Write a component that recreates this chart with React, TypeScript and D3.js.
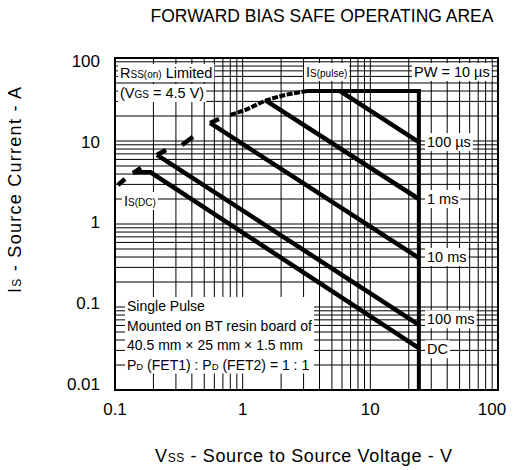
import React, { useEffect, useRef } from 'react';
import * as d3 from 'd3';

type Pt = [number, number];

// axis ticks
const xTicks = [0.1, 1, 10, 100];
const xTickLabels = ['0.1', '1', '10', '100'];
const yTicks = [100, 10, 1, 0.1, 0.01];
const yTickLabels = ['100', '10', '1', '0.1', '0.01'];

// limit lines, [V, A]
const pulseOutline: Pt[] = [[3.2, 40], [24, 40], [24, 0.01]];
const line100us: Pt[] = [[5.8, 40], [24, 9.7]];
const line1ms: Pt[] = [[1.5, 31], [24, 2.0]];
const line10ms: Pt[] = [[0.555, 16.5], [24, 0.39]];
const line100ms: Pt[] = [[0.213, 6.8], [24, 0.061]];
const lineDC: Pt[] = [[0.138, 4.2], [0.19, 4.2], [24, 0.032]];

// RSS(on) limit, dashed
const rdsCurve: Pt[] = [[0.8, 20.6], [1.04, 23.6], [1.55, 31], [2.15, 35.8], [3.2, 40]];
const rdsDashes: Pt[][] = [
  [[0.1055, 2.95], [0.1198, 3.48]],
  [[0.1383, 4.11], [0.1598, 4.73]],
  [[0.213, 6.78], [0.251, 7.8]],
  [[0.335, 8.95], [0.408, 11.2]],
  [[0.555, 16.5], [0.653, 18.4]],
];

// labels at the right end of each line
const endLabels = ['100 µs', '1 ms', '10 ms', '100 ms', 'DC'];
const endLabelCurrents = [9.7, 2.0, 0.4, 0.071, 0.031];

const noteLines = [
  [['Single Pulse', 14]],
  [['Mounted on BT resin board of', 14]],
  [['40.5 mm × 25 mm × 1.5 mm', 14]],
  [['P', 14], ['D', 9.5], [' (FET1) : P', 14], ['D', 9.5], [' (FET2) = 1 : 1', 14]],
] as [string, number][][];

export default function App() {
  const svgRef = useRef<SVGSVGElement>(null);

  useEffect(() => {
    if (!svgRef.current) return;
    const svg = d3.select(svgRef.current);
    svg.selectAll('*').remove();

    const W = 514;
    const H = 470;
    const margin = { top: 58, right: 16, bottom: 80, left: 115 };

    const x = d3.scaleLog().domain([0.1, 100]).range([margin.left, W - margin.right]);
    const y = d3.scaleLog().domain([0.01, 100]).range([H - margin.bottom, margin.top]);
    // tick labels sit slightly off the grid in the original
    const yLab = d3.scaleLog().domain([100, 0.01]).range([61, 384]);

    // grid
    const grid = svg.append('g');
    x.ticks().forEach(v => {
      grid.append('line')
        .attr('x1', x(v)).attr('x2', x(v))
        .attr('y1', margin.top).attr('y2', H - margin.bottom)
        .attr('stroke', '#000').attr('stroke-width', 1);
    });
    y.ticks().forEach(v => {
      grid.append('line')
        .attr('x1', margin.left).attr('x2', W - margin.right)
        .attr('y1', y(v)).attr('y2', y(v))
        .attr('stroke', '#000').attr('stroke-width', 1);
    });

    const bgLayer = svg.append('g');
    const textLayer = svg.append('g');

    const richText = (px: number, py: number, parts: [string, number][], anchor = 'start') => {
      const t = textLayer.append('text')
        .attr('x', px).attr('y', py)
        .attr('text-anchor', anchor)
        .attr('fill', '#000');
      parts.forEach(([s, size]) => t.append('tspan').attr('font-size', size).text(s));
      return t;
    };

    const boxed = (px: number, py: number, parts: [string, number][], pad = 2) => {
      const t = richText(px, py, parts);
      const bb = (t.node() as SVGTextElement).getBBox();
      bgLayer.append('rect')
        .attr('x', bb.x - pad).attr('y', bb.y - 1)
        .attr('width', bb.width + pad * 2).attr('height', bb.height + 2)
        .attr('fill', '#fff');
      return t;
    };

    boxed(120, 78, [['R', 14.5], ['SS(on)', 10], [' Limited', 14.5]]);
    boxed(120, 98, [['(V', 14.5], ['GS', 10], [' = 4.5 V)', 14.5]]);
    boxed(306, 77, [['I', 14.5], ['S(pulse)', 10]]);
    boxed(414, 77, [['PW = 10 µs', 14.5]]);
    boxed(124, 206, [['I', 14.5], ['S(DC)', 10]]);

    endLabels.forEach((s, i) => {
      boxed(427, y(endLabelCurrents[i]) + 5, [[s, 14.5]]);
    });

    // note block with one white background
    const noteNodes = noteLines.map((parts, i) => richText(127, 311 + i * 19.5, parts));
    const boxes = noteNodes.map(n => (n.node() as SVGTextElement).getBBox());
    const bx0 = d3.min(boxes, b => b.x)! - 2;
    const bx1 = d3.max(boxes, b => b.x + b.width)! + 2;
    const by0 = d3.min(boxes, b => b.y)! - 1;
    const by1 = d3.max(boxes, b => b.y + b.height)! + 1;
    bgLayer.append('rect')
      .attr('x', bx0).attr('y', by0)
      .attr('width', bx1 - bx0).attr('height', by1 - by0)
      .attr('fill', '#fff');

    // curves
    const line = d3.line<Pt>().x(d => x(d[0])).y(d => y(d[1]));
    const curves = svg.append('g')
      .attr('fill', 'none').attr('stroke', '#000')
      .attr('stroke-linejoin', 'miter');

    [line100us, line1ms, line10ms, line100ms, lineDC].forEach(d => {
      curves.append('path').attr('d', line(d)).attr('stroke-width', 4.5);
    });
    curves.append('path').attr('d', line(pulseOutline)).attr('stroke-width', 4);

    rdsDashes.forEach(d => {
      curves.append('path').attr('d', line(d)).attr('stroke-width', 4.5);
    });
    curves.append('path')
      .attr('d', d3.line<Pt>().x(d => x(d[0])).y(d => y(d[1])).curve(d3.curveMonotoneX)(rdsCurve))
      .attr('stroke-width', 4)
      .attr('stroke-dasharray', '6,1.5');

    // frame
    svg.append('rect')
      .attr('x', margin.left).attr('y', margin.top)
      .attr('width', W - margin.left - margin.right)
      .attr('height', H - margin.top - margin.bottom)
      .attr('fill', 'none').attr('stroke', '#000').attr('stroke-width', 2);

    // tick labels
    const axisText = svg.append('g').attr('font-size', 17).attr('fill', '#000');
    xTicks.forEach((v, i) => {
      axisText.append('text')
        .attr('x', i === xTicks.length - 1 ? x(v) - 6 : x(v))
        .attr('y', 415)
        .attr('text-anchor', 'middle')
        .text(xTickLabels[i]);
    });
    yTicks.forEach((v, i) => {
      axisText.append('text')
        .attr('x', 100)
        .attr('y', yLab(v))
        .attr('dy', '0.35em')
        .attr('text-anchor', 'end')
        .text(yTickLabels[i]);
    });

    // title and axis titles
    svg.append('text')
      .attr('x', 322).attr('y', 22)
      .attr('text-anchor', 'middle')
      .attr('font-size', 17.5)
      .text('FORWARD BIAS SAFE OPERATING AREA');

    const xt = svg.append('text')
      .attr('x', 155).attr('y', 462)
      .attr('textLength', 297)
      .attr('lengthAdjust', 'spacing')
      .attr('font-size', 18);
    xt.append('tspan').text('V');
    xt.append('tspan').attr('font-size', 12).text('SS');
    xt.append('tspan').text(' - Source to Source Voltage - V');

    const yt = svg.append('text')
      .attr('transform', 'translate(21,293) rotate(-90)')
      .attr('textLength', 206)
      .attr('lengthAdjust', 'spacing')
      .attr('font-size', 18);
    yt.append('tspan').text('I');
    yt.append('tspan').attr('font-size', 12).text('S');
    yt.append('tspan').text(' - Source Current - A');
  }, []);

  return (
    <div style={{ position: 'absolute', left: 0, top: 0, background: '#fff' }}>
      <svg
        ref={svgRef}
        width={514}
        height={470}
        style={{ display: 'block', fontFamily: '"Liberation Sans", Arial, sans-serif' }}
      />
    </div>
  );
}
